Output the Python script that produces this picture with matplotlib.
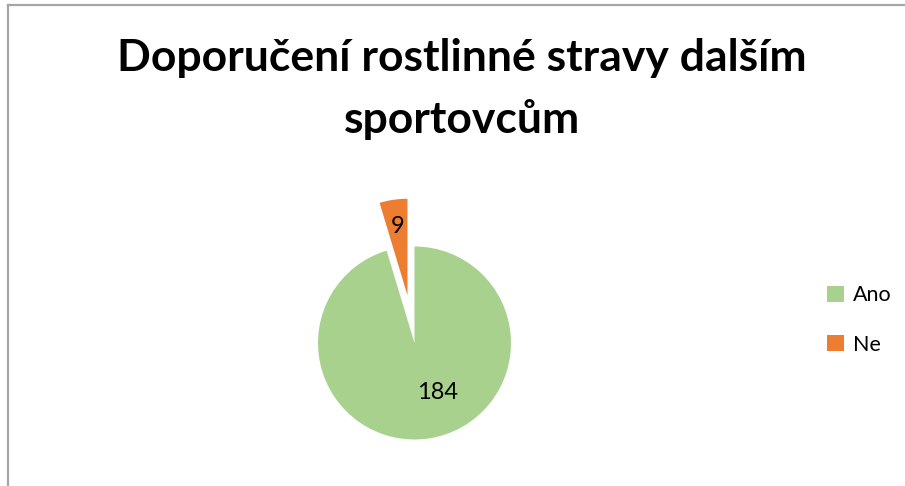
import matplotlib.pyplot as plt
from matplotlib.lines import Line2D
from matplotlib.patches import Patch
import numpy as np

plt.rcParams['font.family'] = ['Lato', 'DejaVu Sans']

title = "Doporučení rostlinné stravy dalším\nsportovcům"
labels = ["Ano", "Ne"]
values = [184, 9]
colors = ["#A9D18E", "#ED7D31"]

W, H = 905, 486
fig = plt.figure(figsize=(W / 100, H / 100), dpi=100)

# outer chart frame (only top and left edges show)
fig.add_artist(Line2D([7.5 / W, 7.5 / W], [0, 1 - 5.5 / H], transform=fig.transFigure,
                      color="#A6A6A6", lw=1.6))
fig.add_artist(Line2D([7.5 / W, 1], [1 - 5.5 / H, 1 - 5.5 / H], transform=fig.transFigure,
                      color="#A6A6A6", lw=1.6))

fig.text(462 / W, 1 - 133 / H, title, ha="center", va="baseline", fontsize=32,
         fontweight="bold", linespacing=1.62, multialignment="center")

# pie: centre (414.5, 343) px, radius 96.5 px
R = 96.5
cx, cy = 414.5, H - 343
xl = (-1.6, 1.6)
yl = (-cy / R, 1.8)
ax = fig.add_axes([(cx + xl[0] * R) / W, 0, (xl[1] - xl[0]) * R / W, (yl[1] - yl[0]) * R / H])

wedges, texts, autotexts = ax.pie(
    values, colors=colors, startangle=90, counterclock=False,
    explode=[0, 0.5], radius=1,
    autopct=lambda p: "%d" % round(p * sum(values) / 100),
    pctdistance=0.72, wedgeprops=dict(linewidth=0),
    textprops=dict(fontsize=17, color="black"))
ax.set_xlim(*xl)
ax.set_ylim(*yl)
ax.set_aspect("equal")

# Excel-like placement of the big label
ang = np.deg2rad(-65)
autotexts[0].set_position((0.57 * np.cos(ang), 0.57 * np.sin(ang)))

handles = [Patch(facecolor=c, edgecolor="none") for c in colors]
fig.legend(handles, labels, loc="center left", bbox_to_anchor=(808 / W, 1 - 320 / H),
           frameon=False, fontsize=15.5, handlelength=0.75, handleheight=0.75,
           handletextpad=0.45, labelspacing=1.35)

fig.savefig("out.png", dpi=100)
